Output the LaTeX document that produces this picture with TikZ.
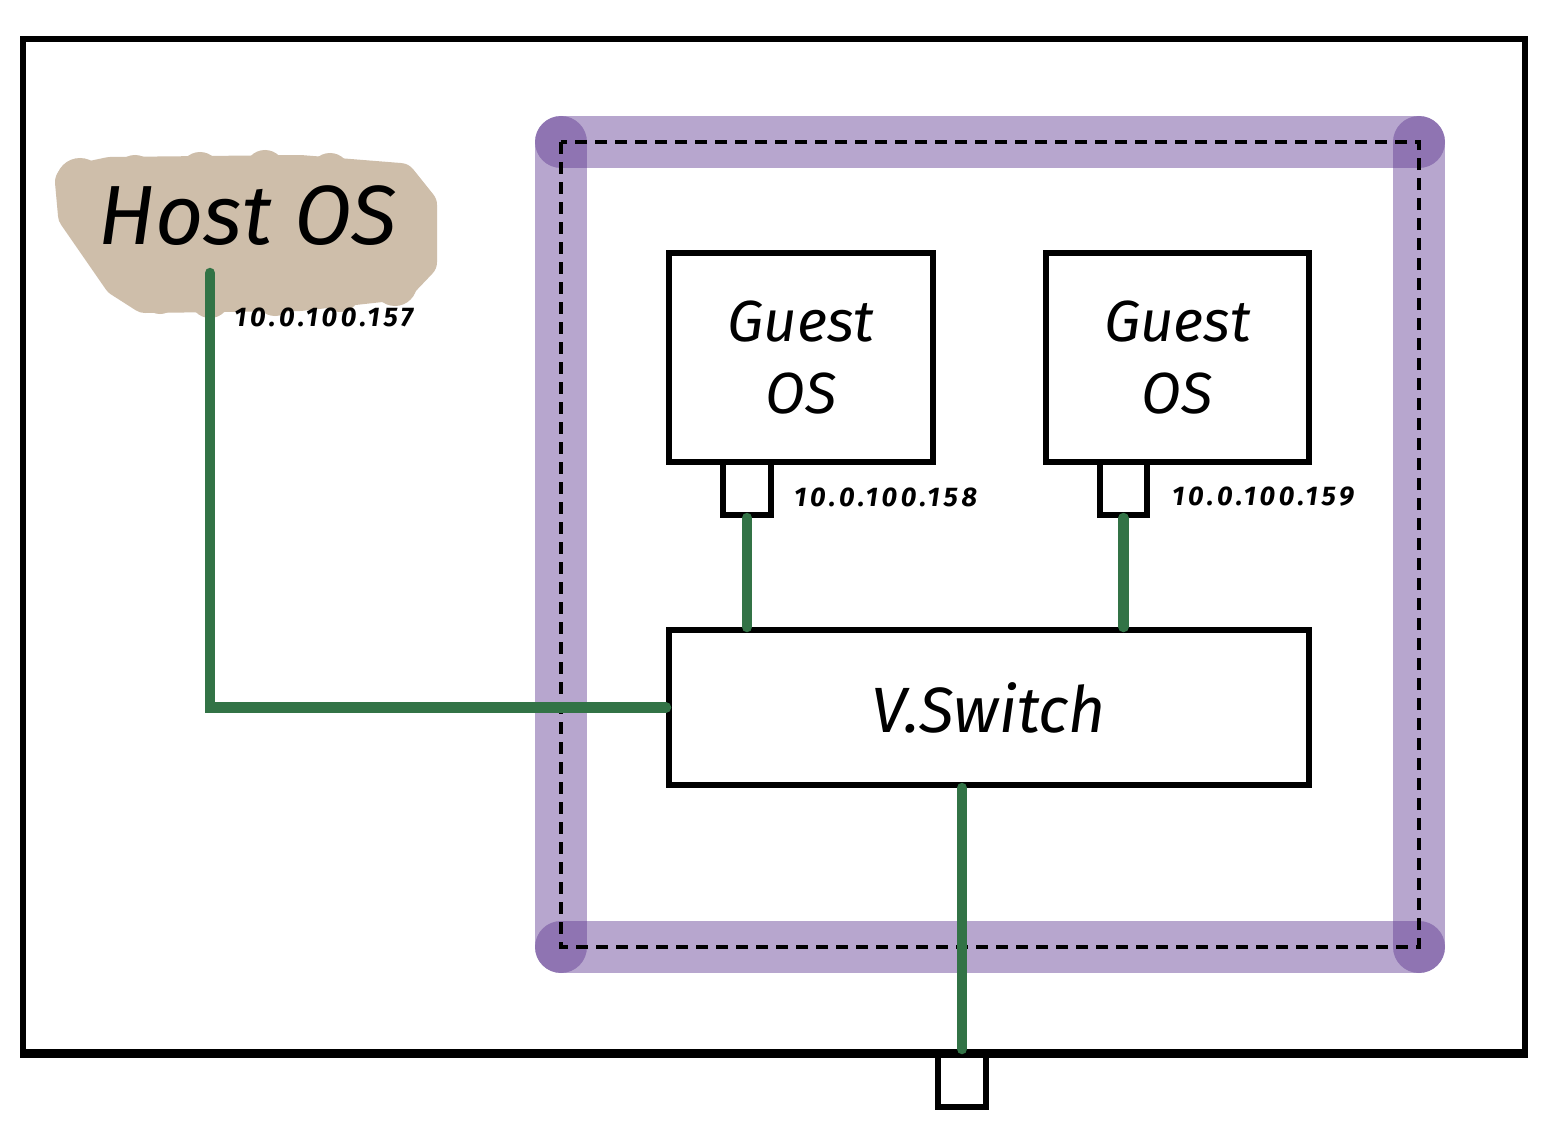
\documentclass[tikz,border=0pt]{standalone}
\usepackage{fontspec}
\setmainfont{Fira Sans}
\newfontfamily\ipfont[LetterSpace=14]{Fira Sans}
\begin{document}
\begin{tikzpicture}[x=1pt,y=-1pt,
  box/.style={draw=black, line width=6pt, fill=white, inner sep=0pt, line join=miter},
  conn/.style={draw=netgreen, line width=10.5pt, line cap=round},
  vmframe/.style={draw=vmpurple, draw opacity=0.444, line width=52pt, line cap=round},
  biglabel/.style={font=\itshape\fontsize{58}{72}\selectfont, align=center},
  iplabel/.style={font=\ipfont\bfseries\itshape\fontsize{27}{27}\selectfont, anchor=west, inner sep=0pt}
]
\definecolor{netgreen}{RGB}{50,115,70}
\definecolor{vmpurple}{RGB}{93,55,145}
\definecolor{cloudbeige}{RGB}{206,190,170}
\useasboundingbox (0,0) rectangle (1550,1121);
\fill[white] (0,0) rectangle (1550,1121);

% outer host box
\node[box, fill=none, minimum width=1502pt, minimum height=1013pt] (host) at (774,545.5) {};

% cloud
\begin{scope}
\fill[cloudbeige, draw=cloudbeige, line width=34pt, line join=round]
  (72,182) -- (110,174) -- (300,172) -- (400,180) -- (420,205) -- (420,262)
  -- (400,283) -- (300,294) -- (145,296) -- (120,280) -- (75,215) -- cycle;
\foreach \cx/\cy/\r in {80/182/24, 135/175/20, 200/172/20, 265/170/20, 330/173/20, 390/185/22, 414/220/22, 416/255/20, 395/284/22, 340/292/20, 275/296/20, 210/298/20, 160/296/18}
  \fill[cloudbeige] (\cx,\cy) circle (\r);
\end{scope}
\node[font=\itshape\fontsize{84}{84}\selectfont, inner sep=0pt] (hostos) at (248,216) {Host OS};
\coordinate (hostport) at (210,273);

% purple VM frame (four sides with overlapping round caps)
\coordinate (c1) at (561,142);
\coordinate (c2) at (1419,142);
\coordinate (c3) at (1419,947);
\coordinate (c4) at (561,947);
\path[vmframe] (c1) -- (c2);
\path[vmframe] (c2) -- (c3);
\path[vmframe] (c3) -- (c4);
\path[vmframe] (c4) -- (c1);
\draw[line width=4pt, dash pattern=on 12pt off 8pt] (c1) rectangle (c3);

% guests
\node[box, minimum width=264pt, minimum height=209pt, biglabel] (g1) at (801,357.5) {Guest\\OS};
\node[box, minimum width=263pt, minimum height=209pt, biglabel] (g2) at (1177.5,357.5) {Guest\\OS};
\node[box, minimum width=48pt, minimum height=53pt] (p1) at (747,488.5) {};
\node[box, minimum width=47pt, minimum height=53pt] (p2) at (1123.5,488.5) {};

% switch
\node[box, minimum width=640pt, minimum height=155pt, font=\itshape\fontsize{64}{64}\selectfont] (vs) at (989,707.5) {V.Switch};

% uplink port
\node[box, minimum width=48pt, minimum height=55pt] (bp) at (962,1079.5) {};
\draw[line width=6pt] (host.south west) -- (host.south east);

% IP labels
\node[iplabel] (ip1) at (234,317) {10.0.100.157};
\node[iplabel] (ip2) at (794,497) {10.0.100.158};
\node[iplabel] (ip3) at (1172,497) {10.0.100.159};

% connectors
\draw[conn] (hostport) |- (vs.west);
\draw[conn] (p1.south) -- (p1.south |- vs.north);
\draw[conn] (p2.south) -- (p2.south |- vs.north);
\draw[conn] (bp.north |- vs.south) -- (bp.north);
\end{tikzpicture}
\end{document}
